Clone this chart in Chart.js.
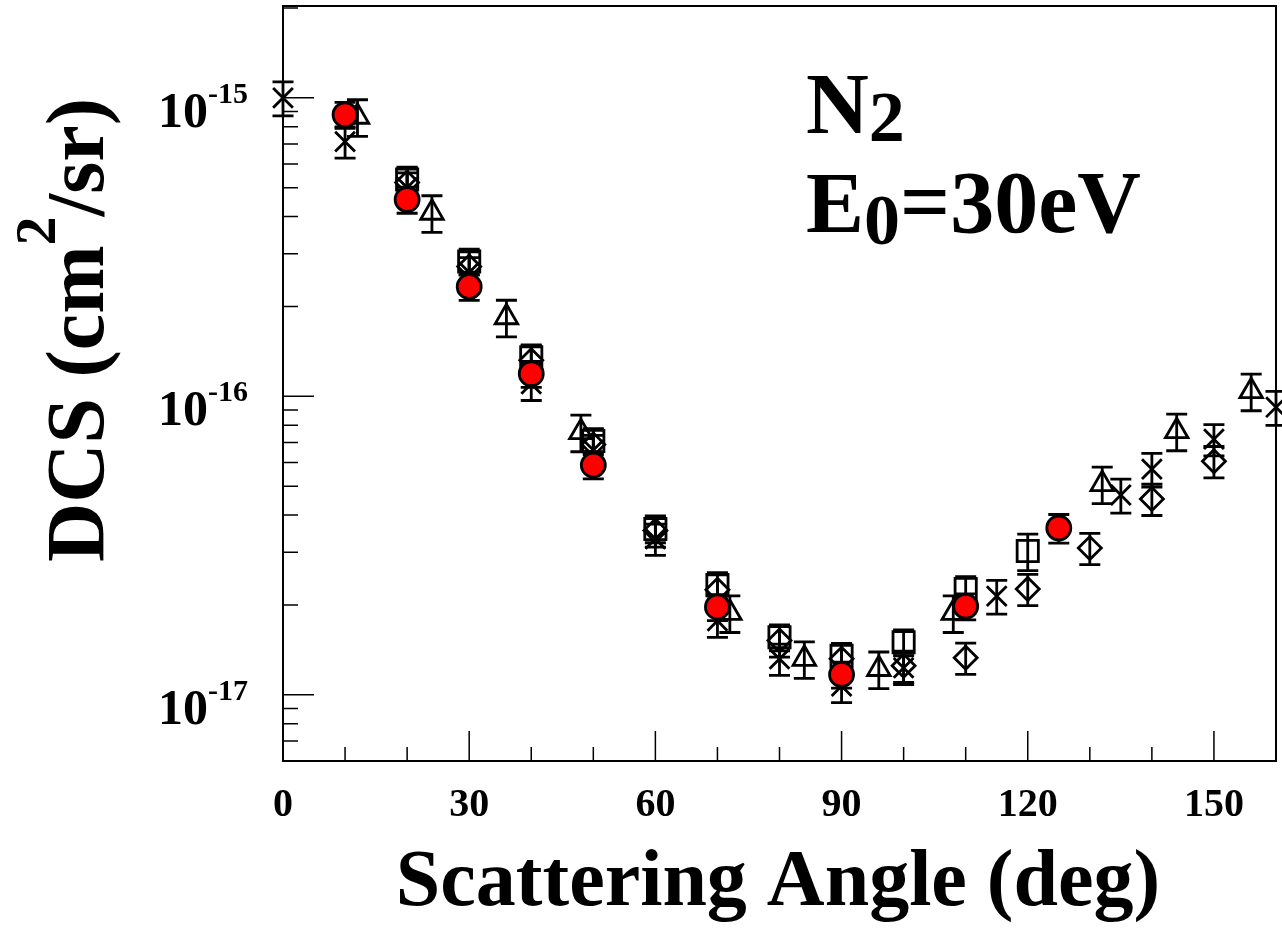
<!DOCTYPE html>
<html>
<head>
<meta charset="utf-8">
<script src="https://cdn.jsdelivr.net/npm/chart.js@4.4.0/dist/chart.umd.min.js"></script>
<style>
  html, body { margin: 0; padding: 0; background: #fff; }
  canvas { display: block; }
</style>
</head>
<body>
<canvas id="grafico" width="1282" height="931"></canvas>
<script>
// Dados: ângulo (graus), DCS (cm^2/sr) e erro relativo
const circAng = [10, 20, 30, 40, 50, 70, 90, 110, 125];
const circDcs = [8.77e-16, 4.56e-16, 2.33e-16, 1.19e-16, 5.88e-17, 1.97e-17, 1.17e-17, 1.98e-17, 3.62e-17];
const circErr = [0.10, 0.10, 0.10, 0.10, 0.10, 0.10, 0.10, 0.10, 0.11];

const quadAng = [20, 30, 40, 50, 60, 70, 80, 90, 100, 110, 120];
const quadDcs = [5.32e-16, 2.83e-16, 1.35e-16, 7.08e-17, 3.59e-17, 2.33e-17, 1.56e-17, 1.35e-17, 1.50e-17, 2.26e-17, 3.03e-17];
const quadErr = [0.10, 0.10, 0.10, 0.10, 0.10, 0.10, 0.10, 0.10, 0.10, 0.10, 0.14];

const losAng = [20, 30, 40, 50, 60, 70, 80, 90, 100, 110, 120, 130, 140, 150];
const losDcs = [5.2e-16, 2.72e-16, 1.32e-16, 6.9e-17, 3.55e-17, 2.25e-17, 1.52e-17, 1.32e-17, 1.25e-17, 1.33e-17, 2.26e-17, 3.10e-17, 4.53e-17, 6.06e-17];
const losErr = [0.12, 0.12, 0.12, 0.12, 0.12, 0.12, 0.12, 0.12, 0.12, 0.12, 0.12, 0.12, 0.12, 0.12];

const triAng = [12, 24, 36, 48, 72, 84, 96, 108, 132, 144, 156];
const triDcs = [8.64e-16, 4.12e-16, 1.84e-16, 7.58e-17, 1.88e-17, 1.32e-17, 1.22e-17, 1.88e-17, 5.08e-17, 7.64e-17, 1.04e-16];
const triErr = [0.14, 0.14, 0.14, 0.14, 0.14, 0.14, 0.14, 0.14, 0.14, 0.14, 0.14];

const xaAng = [10, 20, 30, 40, 50, 60, 70, 80, 90, 100];
const xaDcs = [7.13e-16, 5.0e-16, 2.6e-16, 1.10e-16, 6.6e-17, 3.33e-17, 1.77e-17, 1.32e-17, 1.07e-17, 1.23e-17];
const xaErr = [0.12, 0.12, 0.12, 0.12, 0.12, 0.12, 0.12, 0.12, 0.12, 0.12];

const xbAng = [0, 115, 135, 140, 150, 160];
const xbDcs = [1.0e-15, 2.14e-17, 4.67e-17, 5.7e-17, 7.18e-17, 9.19e-17];
const xbErr = [0.13, 0.13, 0.13, 0.13, 0.12, 0.13];

const xTicks = [0, 30, 60, 90, 120, 150];
const yDecadas = [-15, -16, -17];

const fonte = '"Liberation Serif", "Times New Roman", serif';

const series = [
    { ang: circAng, dcs: circDcs, err: circErr, style: "circle", r: 12, fill: "#ff0000" },
    { ang: quadAng, dcs: quadDcs, err: quadErr, style: "rect", r: 15, fill: "rgba(0,0,0,0)" },
    { ang: losAng, dcs: losDcs, err: losErr, style: "rectRot", r: 11.5, fill: "rgba(0,0,0,0)" },
    { ang: triAng, dcs: triDcs, err: triErr, style: "triangle", r: 13, fill: "rgba(0,0,0,0)" },
    { ang: xaAng, dcs: xaDcs, err: xaErr, style: "crossRot", r: 14, fill: "rgba(0,0,0,0)" },
    { ang: xbAng, dcs: xbDcs, err: xbErr, style: "crossRot", r: 14, fill: "rgba(0,0,0,0)" }
];

// texto com sub/sobrescrito: partes [texto, tamanho, deslocamento vertical]
function larguraPartes(ctx, partes) {
    let w = 0;
    partes.forEach(p => { ctx.font = "bold " + p[1] + "px " + fonte; w += ctx.measureText(p[0]).width; });
    return w;
}
function desenhaPartes(ctx, partes, x, y) {
    partes.forEach(p => {
        ctx.font = "bold " + p[1] + "px " + fonte;
        ctx.fillText(p[0], x, y + p[2]);
        x += ctx.measureText(p[0]).width;
    });
}

const desenhos = {
    id: "desenhos",
    beforeDatasetsDraw(chart) {
        const ctx = chart.ctx, xs = chart.scales.x, ys = chart.scales.y;
        ctx.save();
        ctx.strokeStyle = "#000";
        ctx.lineWidth = 2.8;
        series.forEach(s => {
            s.ang.forEach((a, i) => {
                const x = xs.getPixelForValue(a);
                const y1 = ys.getPixelForValue(s.dcs[i] * (1 + s.err[i]));
                const y2 = ys.getPixelForValue(s.dcs[i] * (1 - s.err[i]));
                ctx.beginPath();
                ctx.moveTo(x, y1); ctx.lineTo(x, y2);
                ctx.moveTo(x - 10.5, y1); ctx.lineTo(x + 10.5, y1);
                ctx.moveTo(x - 10.5, y2); ctx.lineTo(x + 10.5, y2);
                ctx.stroke();
            });
        });
        ctx.restore();
    },
    afterDraw(chart) {
        const ctx = chart.ctx, xs = chart.scales.x, ys = chart.scales.y;
        const a = chart.chartArea;
        ctx.save();
        ctx.strokeStyle = "#000";
        ctx.lineWidth = 2;
        ctx.strokeRect(a.left, a.top, a.right - a.left, a.bottom - a.top);

        // marcas do eixo x
        ctx.lineWidth = 1.5;
        ctx.beginPath();
        for (let v = 0; v <= 160; v += 10) {
            const x = xs.getPixelForValue(v);
            const len = (v % 30 === 0) ? 30 : 14;
            ctx.moveTo(x, a.bottom); ctx.lineTo(x, a.bottom - len);
        }
        // marcas do eixo y (log)
        for (let d = -18; d <= -15; d++) {
            for (let m = 1; m <= 9; m++) {
                const v = m * Math.pow(10, d);
                if (v < ys.min || v > ys.max) continue;
                const y = ys.getPixelForValue(v);
                const len = (m === 1) ? 31 : 15;
                ctx.moveTo(a.left, y); ctx.lineTo(a.left + len, y);
            }
        }
        ctx.stroke();

        ctx.fillStyle = "#000";
        // rótulos do eixo x
        ctx.textAlign = "center";
        ctx.textBaseline = "alphabetic";
        ctx.font = "bold 40px " + fonte;
        xTicks.forEach(v => ctx.fillText(String(v), xs.getPixelForValue(v), 816));

        // rótulos do eixo y: 10^n
        ctx.textAlign = "left";
        yDecadas.forEach(d => {
            const y = ys.getPixelForValue(Math.pow(10, d));
            ctx.font = "bold 30px " + fonte;
            const wSup = ctx.measureText(String(d)).width;
            ctx.font = "bold 50px " + fonte;
            const wBase = ctx.measureText("10").width;
            const x0 = 248 - wSup - wBase;
            ctx.fillText("10", x0, y + 29);
            ctx.font = "bold 30px " + fonte;
            ctx.fillText(String(d), x0 + wBase, y + 5);
        });

        // título do eixo x
        ctx.textAlign = "center";
        ctx.font = "bold 80px " + fonte;
        ctx.fillText("Scattering Angle (deg)", 778, 905);

        // título do eixo y (rotacionado)
        const titY = [["DCS (cm", 82, 0], ["2", 58, -48], ["/sr)", 82, 0]];
        ctx.save();
        ctx.translate(103, 330);
        ctx.rotate(-Math.PI / 2);
        ctx.textAlign = "left";
        desenhaPartes(ctx, titY, -larguraPartes(ctx, titY) / 2, 0);
        ctx.restore();

        // anotações
        ctx.textAlign = "left";
        desenhaPartes(ctx, [["N", 87, 0], ["2", 72, 8]], 806, 133);
        desenhaPartes(ctx, [["E", 87, 0], ["0", 72, 12], ["=30eV", 88, 0]], 806, 232);
        ctx.restore();
    }
};

const ctx = document.getElementById("grafico").getContext("2d");
const grafico = new Chart(ctx, {
    type: "scatter",
    data: {
        datasets: series.map(s => ({
            data: s.ang.map((a, i) => ({ x: a, y: s.dcs[i] })),
            pointStyle: s.style,
            pointRadius: s.r,
            pointHoverRadius: s.r,
            pointBorderWidth: 2.8,
            borderColor: "#000",
            backgroundColor: s.fill,
            showLine: false,
            clip: false
        }))
    },
    options: {
        responsive: false,
        animation: false,
        devicePixelRatio: 1,
        layout: { autoPadding: false, padding: { top: 6, right: 6, left: 0, bottom: 0 } },
        plugins: { legend: { display: false }, tooltip: { enabled: false } },
        scales: {
            x: {
                type: "linear", min: 0, max: 160,
                ticks: { display: false },
                grid: { display: false, drawTicks: false },
                border: { display: false },
                afterFit: sc => { sc.height = 170; }
            },
            y: {
                type: "logarithmic", min: 6.06e-18, max: 2.03e-15,
                ticks: { display: false },
                grid: { display: false, drawTicks: false },
                border: { display: false },
                afterFit: sc => { sc.width = 283; }
            }
        }
    },
    plugins: [desenhos]
});
</script>
</body>
</html>
